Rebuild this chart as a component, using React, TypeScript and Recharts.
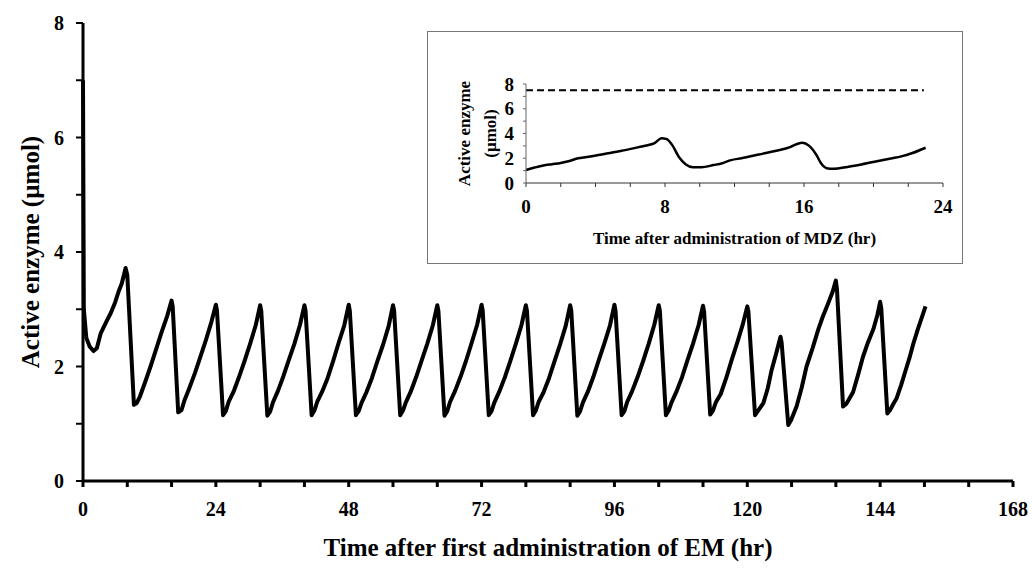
import { LineChart, Line, XAxis, YAxis, Label } from 'recharts'

const FONT = "'Liberation Serif', 'Times New Roman', serif"

// main chart: hours after first EM dose vs active enzyme (µmol)
const emTime = [
	0, 0.15, 0.6, 1.2, 1.9, 2.5, 3.2, 4.2, 5.0, 5.8, 6.4, 7.0, 7.7,
	8.0, 9.2, 9.7, 10.3, 11.2, 12.2, 13.2, 14.2, 15.2, 16,
	16.2, 17.2, 17.8, 18.3, 19.2, 20.2, 21.2, 22.2, 23.2, 24,
	24.2, 25.3, 25.8, 26.3, 27.2, 28.2, 29.2, 30.2, 31.2, 32,
	32.2, 33.3, 33.8, 34.3, 35.2, 36.2, 37.2, 38.2, 39.2, 40,
	40.2, 41.3, 41.8, 42.3, 43.2, 44.2, 45.2, 46.2, 47.2, 48,
	48.2, 49.3, 49.8, 50.3, 51.2, 52.2, 53.2, 54.2, 55.2, 56,
	56.2, 57.3, 57.8, 58.3, 59.2, 60.2, 61.2, 62.2, 63.2, 64,
	64.2, 65.3, 65.8, 66.3, 67.2, 68.2, 69.2, 70.2, 71.2, 72,
	72.2, 73.3, 73.8, 74.3, 75.2, 76.2, 77.2, 78.2, 79.2, 80,
	80.2, 81.3, 81.8, 82.3, 83.2, 84.2, 85.2, 86.2, 87.2, 88,
	88.2, 89.3, 89.8, 90.3, 91.2, 92.2, 93.2, 94.2, 95.2, 96,
	96.2, 97.3, 97.8, 98.3, 99.2, 100.2, 101.2, 102.2, 103.2, 104,
	104.2, 105.3, 105.8, 106.3, 107.2, 108.2, 109.2, 110.2, 111.2, 112,
	112.2, 113.3, 113.8, 114.3, 115.2, 116.2, 117.2, 118.2, 119.2, 120,
	120.2, 121.4, 121.9, 122.9, 123.7, 124.4, 125.2, 126,
	126.2, 127.4, 127.9, 128.9, 129.8, 130.7, 131.8, 132.8, 133.6, 134.6, 135.4, 136,
	136.2, 137.3, 137.9, 138.5, 139.1, 140.0, 140.9, 141.8, 142.8, 143.5, 144,
	144.2, 145.3, 145.8, 146.4, 147.0, 147.8, 148.5, 149.3, 150.0, 150.8, 151.5, 152.2,
]

const emEnzyme = [
	7.0, 3.0, 2.5, 2.35, 2.27, 2.32, 2.58, 2.78, 2.93, 3.12, 3.3, 3.45, 3.72,
	3.6, 1.33, 1.36, 1.48, 1.72, 2.0, 2.3, 2.6, 2.88, 3.15,
	3.05, 1.2, 1.24, 1.4, 1.62, 1.88, 2.17, 2.46, 2.78, 3.08,
	2.98, 1.15, 1.22, 1.38, 1.56, 1.82, 2.1, 2.4, 2.72, 3.07,
	2.97, 1.14, 1.21, 1.37, 1.57, 1.83, 2.12, 2.4, 2.73, 3.07,
	2.98, 1.15, 1.23, 1.38, 1.56, 1.8, 2.1, 2.42, 2.72, 3.08,
	2.97, 1.15, 1.22, 1.36, 1.55, 1.8, 2.1, 2.38, 2.7, 3.07,
	2.98, 1.15, 1.23, 1.37, 1.56, 1.82, 2.11, 2.4, 2.72, 3.07,
	2.97, 1.14, 1.22, 1.38, 1.57, 1.82, 2.1, 2.41, 2.73, 3.08,
	2.98, 1.15, 1.22, 1.37, 1.56, 1.81, 2.1, 2.4, 2.72, 3.07,
	2.97, 1.15, 1.23, 1.38, 1.55, 1.8, 2.1, 2.39, 2.71, 3.07,
	2.98, 1.14, 1.22, 1.37, 1.56, 1.82, 2.12, 2.41, 2.72, 3.08,
	2.97, 1.15, 1.22, 1.38, 1.57, 1.82, 2.1, 2.4, 2.73, 3.07,
	2.98, 1.15, 1.23, 1.37, 1.56, 1.81, 2.11, 2.4, 2.72, 3.06,
	2.96, 1.16, 1.23, 1.37, 1.52, 1.8, 2.12, 2.42, 2.74, 3.05,
	2.96, 1.15, 1.22, 1.36, 1.62, 1.94, 2.22, 2.52,
	2.42, 0.98, 1.06, 1.3, 1.62, 2.0, 2.32, 2.64, 2.86, 3.1, 3.3, 3.5,
	3.35, 1.3, 1.35, 1.45, 1.55, 1.85, 2.17, 2.42, 2.66, 2.9, 3.13,
	3.02, 1.18, 1.24, 1.35, 1.45, 1.68, 1.9, 2.15, 2.4, 2.65, 2.85, 3.05,
]

// inset: hours after MDZ vs active enzyme, plus the dashed level
const mdzTime = [
	0, 0.5, 1.0, 1.5, 2.0, 2.5, 3.0, 3.5, 4.5, 5.5, 6.5, 7.0, 7.4, 7.8,
	8.1, 8.4, 8.8, 9.2, 9.6, 10.1, 10.8, 11.3, 11.8, 12.4, 13.4, 14.4, 15.2, 15.6, 15.9,
	16.3, 16.7, 17.0, 17.3, 17.7, 18.5, 19.3, 20.2, 21.0, 21.6, 22.2, 23.0,
]
const mdzEnzyme = [
	1.05, 1.25, 1.42, 1.52, 1.62, 1.78, 2.0, 2.1, 2.35, 2.6, 2.9, 3.05, 3.22, 3.62,
	3.55, 3.1, 2.1, 1.5, 1.28, 1.27, 1.45, 1.6, 1.85, 2.0, 2.3, 2.6, 2.9, 3.15, 3.25,
	3.0, 2.3, 1.55, 1.2, 1.15, 1.3, 1.5, 1.75, 1.98, 2.15, 2.4, 2.85,
]
const dashTime = [0, 22.9]
const dashEnzyme = [7.5, 7.5]

const mainXTicks = [0, 8, 16, 24, 32, 40, 48, 56, 64, 72, 80, 88, 96, 104, 112, 120, 128, 136, 144, 152, 160, 168]
const mainYTicks = [0, 1, 2, 3, 4, 5, 6, 7, 8]
const insetXTicks = [0, 2, 4, 6, 8, 10, 12, 14, 16, 18, 20, 22, 24]
const insetYTicks = [0, 1, 2, 3, 4, 5, 6, 7, 8]

const mainData = emTime.map((t, i) => ({ t, v: emEnzyme[i] }))
const mdzData = mdzTime.map((t, i) => ({ t, v: mdzEnzyme[i] }))
const dashData = dashTime.map((t, i) => ({ t, v: dashEnzyme[i] }))

const boldTick = (size: number) => ({ fill: '#000', fontSize: size, fontWeight: 700, fontFamily: FONT })

function vLabel(lines: { text: string; x: number }[], size: number) {
	return (props: any) => {
		const vb = props.viewBox
		const cy = vb.y + vb.height / 2
		return (
			<g>
				{lines.map((l) => (
					<text key={l.text} x={l.x} y={cy} transform={`rotate(-90 ${l.x} ${cy})`} textAnchor="middle"
						dominantBaseline="central" fontFamily={FONT} fontWeight={700} fontSize={size} fill="#000">
						{l.text}
					</text>
				))}
			</g>
		)
	}
}

function hLabel(text: string, y: number, size: number) {
	return (props: any) => {
		const vb = props.viewBox
		return (
			<text x={vb.x + vb.width / 2} y={y} textAnchor="middle" dominantBaseline="central"
				fontFamily={FONT} fontWeight={700} fontSize={size} fill="#000">
				{text}
			</text>
		)
	}
}

export default function App() {
	return (
		<div style={{ position: 'absolute', left: 0, top: 0, width: 1032, height: 570, background: '#fff' }}>
			<LineChart width={1032} height={570} data={mainData} margin={{ top: 23, right: 19, bottom: 0, left: 0 }}>
				<XAxis dataKey="t" type="number" domain={[0, 168]} ticks={mainXTicks} interval={0} height={89}
					tickFormatter={(v: number) => (v % 24 === 0 ? String(v) : '')}
					axisLine={{ stroke: '#000', strokeWidth: 3 }} tickLine={{ stroke: '#000', strokeWidth: 3 }}
					tickSize={6} tickMargin={15} tick={boldTick(20)}>
					<Label content={hLabel('Time after first administration of EM (hr)', 547, 25)} />
				</XAxis>
				<YAxis type="number" domain={[0, 8]} ticks={mainYTicks} interval={0} width={83}
					tickFormatter={(v: number) => (v % 2 === 0 ? String(v) : '')}
					axisLine={{ stroke: '#000', strokeWidth: 3 }} tickLine={{ stroke: '#000', strokeWidth: 2 }}
					tickSize={7} tickMargin={12} tick={boldTick(20)}>
					<Label content={vLabel([{ text: 'Active enzyme (µmol)', x: 30 }], 25)} />
				</YAxis>
				<Line dataKey="v" type="linear" stroke="#000" strokeWidth={4} dot={false}
					strokeLinejoin="round" isAnimationActive={false} />
			</LineChart>

			<div style={{ position: 'absolute', left: 427, top: 31, width: 534, height: 231, border: '1px solid #777', background: '#fff' }}>
				<LineChart width={534} height={231} margin={{ top: 52, right: 19, bottom: 0, left: 0 }}>
					<XAxis dataKey="t" type="number" domain={[0, 24]} ticks={insetXTicks} interval={0} height={80}
						tickFormatter={(v: number) => (v % 8 === 0 ? String(v) : '')}
						axisLine={{ stroke: '#333', strokeWidth: 1 }} tickLine={{ stroke: '#333', strokeWidth: 1 }}
						tickSize={4} tickMargin={13} tick={boldTick(19)}>
						<Label content={hLabel('Time after administration of MDZ (hr)', 206, 17)} />
					</XAxis>
					<YAxis type="number" domain={[0, 8]} ticks={insetYTicks} interval={0} width={98}
						tickFormatter={(v: number) => (v % 2 === 0 ? String(v) : '')}
						axisLine={{ stroke: '#666', strokeWidth: 1 }} tickLine={{ stroke: '#666', strokeWidth: 1 }}
						tickSize={3} tickMargin={9} tick={boldTick(19)}>
						<Label content={vLabel([{ text: 'Active enzyme', x: 36 }, { text: '(µmol)', x: 62 }], 17)} />
					</YAxis>
					<Line data={dashData} dataKey="v" type="linear" stroke="#000" strokeWidth={2} strokeDasharray="7 4"
						dot={false} isAnimationActive={false} />
					<Line data={mdzData} dataKey="v" type="monotone" stroke="#000" strokeWidth={2.5} dot={false}
						isAnimationActive={false} />
				</LineChart>
			</div>
		</div>
	)
}
